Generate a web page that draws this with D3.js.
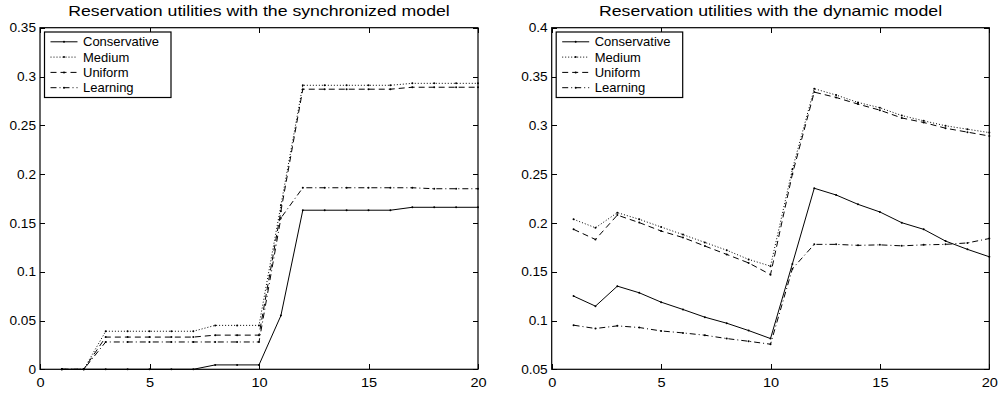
<!DOCTYPE html>
<html>
<head>
<meta charset="utf-8">
<script src="https://cdn.jsdelivr.net/npm/d3@7"></script>
<style>
  body { margin: 0; background: #fff; }
  svg { display: block; }
  text { font-family: "Liberation Sans", Arial, Helvetica, sans-serif; fill: #000; }
</style>
</head>
<body>
<div id="chart"></div>
<script>
// stage index on the x axis
const steps = [1, 2, 3, 4, 5, 6, 7, 8, 9, 10, 11, 12, 13, 14, 15, 16, 17, 18, 19, 20];
const seriesNames = ["Conservative", "Medium", "Uniform", "Learning"];

// synchronized model
const syncConservative = [0, 0, 0, 0, 0, 0, 0, 0.0045, 0.0045, 0.0045, 0.055, 0.163, 0.163, 0.163, 0.163, 0.163, 0.166, 0.166, 0.166, 0.166];
const syncMedium = [0, 0, 0.039, 0.039, 0.039, 0.039, 0.039, 0.045, 0.045, 0.045, 0.168, 0.291, 0.291, 0.291, 0.291, 0.291, 0.293, 0.293, 0.293, 0.293];
const syncUniform = [0, 0, 0.033, 0.033, 0.033, 0.033, 0.033, 0.035, 0.035, 0.035, 0.162, 0.287, 0.287, 0.287, 0.287, 0.287, 0.289, 0.289, 0.289, 0.289];
const syncLearning = [0, 0, 0.028, 0.028, 0.028, 0.028, 0.028, 0.028, 0.028, 0.028, 0.155, 0.186, 0.186, 0.186, 0.186, 0.186, 0.186, 0.185, 0.185, 0.185];

// dynamic model
const dynConservative = [0.125, 0.1147, 0.1352, 0.1284, 0.1188, 0.1113, 0.1034, 0.0972, 0.0897, 0.0815, 0.158, 0.2355, 0.2286, 0.219, 0.2112, 0.2002, 0.1934, 0.1814, 0.1729, 0.1653];
const dynMedium = [0.2037, 0.195, 0.2105, 0.2037, 0.1958, 0.188, 0.18, 0.172, 0.1626, 0.1557, 0.255, 0.3375, 0.331, 0.3234, 0.318, 0.31, 0.3046, 0.2995, 0.296, 0.2925];
const dynUniform = [0.1934, 0.183, 0.208, 0.2003, 0.1917, 0.185, 0.1763, 0.1677, 0.159, 0.147, 0.25, 0.334, 0.3285, 0.3217, 0.3155, 0.3075, 0.3029, 0.297, 0.293, 0.289];
const dynLearning = [0.0952, 0.0918, 0.0945, 0.0928, 0.0893, 0.0873, 0.0849, 0.0815, 0.0787, 0.0757, 0.153, 0.178, 0.178, 0.177, 0.1775, 0.1765, 0.1775, 0.178, 0.1795, 0.184];

const xTicks = [0, 5, 10, 15, 20];
const syncYTicks = [0, 0.05, 0.1, 0.15, 0.2, 0.25, 0.3, 0.35];
const dynYTicks = [0.05, 0.1, 0.15, 0.2, 0.25, 0.3, 0.35, 0.4];

// matlab line styles
const dashes = ["none", "1 2", "6 4", "6 3 1 3"];

const width = 999, height = 393;
const svg = d3.select("#chart").append("svg")
    .attr("width", width)
    .attr("height", height);

function stretch(sel, k) {
    sel.each(function() {
        const w = this.getComputedTextLength();
        d3.select(this).attr("textLength", w * k).attr("lengthAdjust", "spacingAndGlyphs");
    });
}

function drawPanel(opts) {
    const g = svg.append("g");
    const x = d3.scaleLinear().domain([0, 20]).range([opts.left, opts.right]);
    const y = d3.scaleLinear().domain(opts.yDomain).range([369.3, 27.7]);
    const fmt = d3.format("~g");

    // axes with inward ticks
    const bottom = g.append("g").attr("transform", `translate(0,${y.range()[0]})`)
        .call(d3.axisBottom(x).tickValues(xTicks).tickSize(-5).tickSizeOuter(0).tickPadding(8).tickFormat(fmt));
    const left = g.append("g").attr("transform", `translate(${x.range()[0]},0)`)
        .call(d3.axisLeft(y).tickValues(opts.yTicks).tickSize(-5).tickSizeOuter(0).tickPadding(4).tickFormat(fmt));
    g.append("g").attr("transform", `translate(0,${y.range()[1]})`)
        .call(d3.axisTop(x).tickValues(xTicks).tickSize(-5).tickSizeOuter(0).tickFormat(""));
    g.append("g").attr("transform", `translate(${x.range()[1]},0)`)
        .call(d3.axisRight(y).tickValues(opts.yTicks).tickSize(-5).tickSizeOuter(0).tickFormat(""));

    g.selectAll(".domain").remove();
    g.selectAll(".tick line").attr("stroke", "#000").attr("shape-rendering", "crispEdges");
    g.selectAll(".tick text").style("font-size", "13px").attr("fill", "#000");
    bottom.selectAll(".tick text").call(stretch, 1.12);
    left.selectAll(".tick text").call(stretch, 1.05);

    g.append("rect")
        .attr("x", x.range()[0]).attr("y", y.range()[1])
        .attr("width", x.range()[1] - x.range()[0])
        .attr("height", y.range()[0] - y.range()[1])
        .attr("fill", "none").attr("stroke", "#000").attr("stroke-width", 1.2);

    // series
    const line = d3.line().x((d, i) => x(steps[i])).y(d => y(d));
    opts.series.forEach((vals, s) => {
        g.append("path")
            .attr("d", line(vals))
            .attr("fill", "none")
            .attr("stroke", "#000")
            .attr("stroke-width", 1)
            .attr("stroke-dasharray", dashes[s]);
        g.selectAll(null).data(vals).enter().append("circle")
            .attr("cx", (d, i) => x(steps[i]))
            .attr("cy", d => y(d))
            .attr("r", 1)
            .attr("fill", "#000");
    });

    // title
    g.append("text")
        .attr("x", (x.range()[0] + x.range()[1]) / 2)
        .attr("y", 16)
        .attr("text-anchor", "middle")
        .style("font-size", "14.5px")
        .text(opts.title)
        .call(stretch, 1.22);

    // legend
    const lx = x.range()[0] + 4.5, ly = 32;
    const leg = g.append("g").attr("transform", `translate(${lx},${ly})`);
    leg.append("rect")
        .attr("width", 126.5).attr("height", 65.5)
        .attr("fill", "#fff").attr("stroke", "#000").attr("stroke-width", 1.2);
    seriesNames.forEach((name, s) => {
        const cy = 9.8 + s * 15.3;
        leg.append("line")
            .attr("x1", 6).attr("x2", 33).attr("y1", cy).attr("y2", cy)
            .attr("stroke", "#000").attr("stroke-width", 1)
            .attr("stroke-dasharray", dashes[s]);
        leg.append("circle").attr("cx", 19.5).attr("cy", cy).attr("r", 1).attr("fill", "#000");
        leg.append("text")
            .attr("x", 38.5).attr("y", cy + 4.6)
            .style("font-size", "13px")
            .text(name);
    });
}

drawPanel({
    left: 40, right: 478,
    yDomain: [0, 0.35], yTicks: syncYTicks,
    title: "Reservation utilities with the synchronized model",
    series: [syncConservative, syncMedium, syncUniform, syncLearning]
});

drawPanel({
    left: 551.7, right: 989.3,
    yDomain: [0.05, 0.4], yTicks: dynYTicks,
    title: "Reservation utilities with the dynamic model",
    series: [dynConservative, dynMedium, dynUniform, dynLearning]
});
</script>
</body>
</html>
